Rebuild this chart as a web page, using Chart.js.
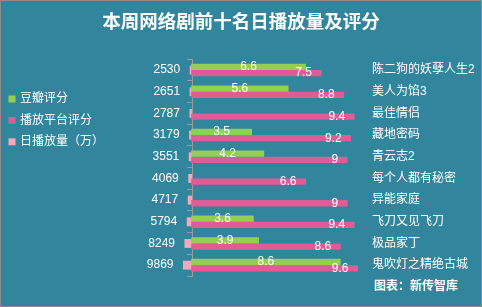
<!DOCTYPE html>
<html>
<head>
<meta charset="utf-8">
<script src="https://cdn.jsdelivr.net/npm/chart.js@4.4.0/dist/chart.umd.min.js"></script>
<style>
  html, body { margin: 0; padding: 0; background: #31859c; }
</style>
</head>
<body>
<canvas id="myChart" width="482" height="307"></canvas>
<script>
// data, top row first
const shows = ["陈二狗的妖孽人生2", "美人为馅3", "最佳情侣", "藏地密码", "青云志2",
  "每个人都有秘密", "异能家庭", "飞刀又见飞刀", "极品家丁", "鬼吹灯之精绝古城"];
const doubanScore = [6.6, 5.6, null, 3.5, 4.2, null, null, 3.6, 3.9, 8.6];
const platformScore = [7.5, 8.8, 9.4, 9.2, 9, 6.6, 9, 9.4, 8.6, 9.6];
const dailyPlays = [2530, 2651, 2787, 3179, 3551, 4069, 4717, 5794, 8249, 9869];
const seriesNames = ["豆瓣评分", "播放平台评分", "日播放量（万）"];
const chartTitle = "本周网络剧前十名日播放量及评分";
const sourceNote = "图表：新传智库";

// colours
const BG = "#31859c";
const GREEN = "#92d050";
const PINK = "#de5d96";
const LIGHT_PINK = "#f5a8bc";
const AXIS = "#9a9a9a";
const FONT = "'Liberation Sans', 'Noto Sans CJK SC', sans-serif";

// background + frame
const bgPlugin = {
  id: "bg",
  beforeDraw(chart) {
    const ctx = chart.ctx;
    ctx.save();
    ctx.fillStyle = BG;
    ctx.fillRect(0, 0, chart.width, chart.height);
    ctx.strokeStyle = "#8c8c8c";
    ctx.lineWidth = 1;
    ctx.strokeRect(0.5, 0.5, chart.width - 1, chart.height - 1);
    ctx.restore();
  },
};

// value labels, left legend and source note
const labelPlugin = {
  id: "barLabels",
  afterDraw(chart) {
    const ctx = chart.ctx;
    ctx.save();
    ctx.font = "12px " + FONT;
    ctx.fillStyle = "#fff";
    ctx.textBaseline = "middle";
    chart.data.datasets.forEach((ds, i) => {
      chart.getDatasetMeta(i).data.forEach((bar, j) => {
        const v = ds.data[j];
        if (v == null) return;
        const left = Math.min(bar.x, bar.base);
        const right = Math.max(bar.x, bar.base);
        if (i === 0) {
          ctx.textAlign = "center";
          ctx.fillText(v, (left + right) / 2, bar.y);
        } else if (i === 1) {
          ctx.textAlign = "right";
          ctx.fillText(v, right - 9.5, bar.y);
        } else {
          ctx.textAlign = "right";
          ctx.fillText(v, left - 9.5, bar.y);
        }
      });
    });

    // legend
    ctx.textAlign = "left";
    chart.data.datasets.forEach((ds, i) => {
      const y = 99 + i * 21.4;
      ctx.fillStyle = ds.backgroundColor;
      ctx.fillRect(8.5, y - 3.5, 7, 7);
      ctx.fillStyle = "#fff";
      ctx.fillText(ds.label, 20, y);
    });

    // source
    ctx.font = "bold 12px " + FONT;
    ctx.textAlign = "right";
    ctx.fillText(sourceNote, 458, 287);
    ctx.restore();
  },
};

const config = {
  type: "bar",
  data: {
    labels: shows,
    datasets: [
      {
        label: seriesNames[0],
        data: doubanScore,
        backgroundColor: GREEN,
        xAxisID: "x",
        yAxisID: "y",
        categoryPercentage: 0.58,
        barPercentage: 1,
      },
      {
        label: seriesNames[1],
        data: platformScore,
        backgroundColor: PINK,
        xAxisID: "x",
        yAxisID: "y",
        categoryPercentage: 0.58,
        barPercentage: 1,
      },
      {
        // own value axis, not grouped with the scores
        label: seriesNames[2],
        data: dailyPlays,
        backgroundColor: LIGHT_PINK,
        xAxisID: "x2",
        yAxisID: "y",
        grouped: false,
        categoryPercentage: 0.41,
        barPercentage: 1,
        clip: false,
      },
    ],
  },
  options: {
    indexAxis: "y",
    responsive: false,
    animation: false,
    events: [],
    layout: { padding: { left: 0, right: 0, top: 0, bottom: 31 } },
    scales: {
      x: { type: "linear", display: false, min: -1, max: 10 },
      // daily plays grow to the left of the axis line
      x2: { type: "linear", display: false, reverse: true, min: -189700, max: 19960 },
      y: {
        type: "category",
        position: "right",
        offset: true,
        afterFit: (s) => { s.width = 117; },
        grid: { display: false, drawTicks: false },
        border: { display: false },
        ticks: { color: "#fff", padding: 7, font: { size: 12, family: FONT } },
      },
      // empty left gutter for legend and play counts
      y2: {
        type: "category",
        position: "left",
        offset: true,
        afterFit: (s) => { s.width = 173.8; },
        grid: { display: false, drawTicks: false },
        border: { display: false },
        ticks: { display: false },
      },
      // category axis line with tick marks
      y3: {
        type: "category",
        position: { x: 0.05 },
        offset: true,
        z: 1,
        grid: { drawOnChartArea: false, tickLength: 5, color: AXIS, offset: true },
        border: { color: AXIS },
        ticks: { display: false },
      },
    },
    plugins: {
      legend: { display: false },
      tooltip: { enabled: false },
      title: {
        display: true,
        text: chartTitle,
        color: "#fff",
        font: { size: 18.5, weight: "bold", family: FONT },
        padding: { top: 12, bottom: 25 },
      },
    },
  },
  plugins: [bgPlugin, labelPlugin],
};

const myChart = new Chart(document.getElementById("myChart"), config);
</script>
</body>
</html>
